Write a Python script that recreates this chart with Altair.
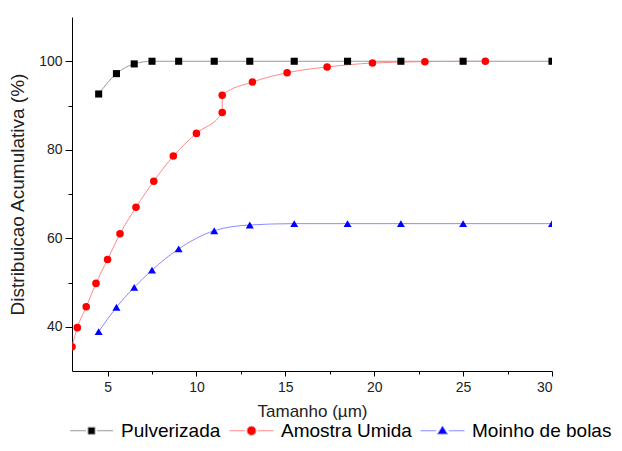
import altair as alt
import pandas as pd

series_names = ["Pulverizada", "Amostra Umida", "Moinho de bolas"]
marker_colors = ["#000000", "#ff0000", "#0000ff"]
line_colors = ["#9a9a9a", "#ff8a8a", "#8c8cff"]

pulv_x = [4.5, 5.5, 6.5, 7.5, 9.0, 11.0, 13.0, 15.5, 18.5, 21.5, 25.0, 30.0]
pulv_y = [92.6, 97.2, 99.4, 100.0, 100.0, 100.0, 100.0, 100.0, 100.0, 100.0, 100.0, 100.0]

umida_x = [3.0, 3.3, 3.8, 4.35, 5.0, 5.7, 6.6, 7.6, 8.7, 10.0, 11.45, 11.45, 13.15,
           15.1, 17.35, 19.9, 22.85, 26.25]
umida_y = [35.5, 39.8, 44.5, 49.8, 55.2, 61.0, 67.0, 72.9, 78.6, 83.7, 88.4, 92.3, 95.3,
           97.4, 98.7, 99.6, 99.9, 100.0]

moinho_x = [4.5, 5.5, 6.5, 7.5, 9.0, 11.0, 13.0, 15.5, 18.5, 21.5, 25.0, 30.0]
moinho_y = [38.9, 44.4, 48.9, 52.8, 57.6, 61.7, 63.0, 63.3, 63.3, 63.3, 63.3, 63.3]

x_ticks = [5, 7.5, 10, 12.5, 15, 17.5, 20, 22.5, 25, 27.5, 30]
y_ticks = [40, 50, 60, 70, 80, 90, 100]

rows = []
for name, xs, ys in [(series_names[0], pulv_x, pulv_y),
                     (series_names[1], umida_x, umida_y),
                     (series_names[2], moinho_x, moinho_y)]:
    for i, (xv, yv) in enumerate(zip(xs, ys)):
        rows.append({"Series": name, "x": xv, "y": yv, "idx": i})
df = pd.DataFrame(rows)

# legend glyphs: line - marker - line (unit = sqrt(size)/2 px = 5 px)
legend_shapes = [
    "M-4.3,0H-1.1M1.1,0H4.3M-0.7,-0.7H0.7V0.7H-0.7Z",
    "M-4.4,0H-1.3M1.3,0H4.4M0.9,0A0.9,0.9,0,1,1,-0.9,0A0.9,0.9,0,1,1,0.9,0Z",
    "M-4.4,0H-1.25M1.25,0H4.4M0,-0.95L1.0,0.65H-1.0Z",
]

x_enc = alt.X("x:Q", scale=alt.Scale(domain=[3, 30], nice=False, zero=False),
              axis=alt.Axis(values=x_ticks, title="Tamanho (µm)", grid=False,
                            labelExpr="datum.value % 5 === 0 ? '' + datum.value : ''",
                            tickSize={"condition": {"test": "datum.value % 5 === 0", "value": 5}, "value": 3},
                            labelPadding=4, titlePadding=9, titleFontSize=17,
                            labelFontSize=14))
y_enc = alt.Y("y:Q", scale=alt.Scale(domain=[30, 110], nice=False, zero=False),
              axis=alt.Axis(values=y_ticks, title="Distribuicao Acumulativa (%)", grid=False,
                            labelExpr="datum.value % 20 === 0 ? '' + datum.value : ''",
                            tickSize={"condition": {"test": "datum.value % 20 === 0", "value": 7}, "value": 4},
                            labelPadding=3, titlePadding=11, titleFontSize=19,
                            labelFontSize=14))

lines = alt.Chart(df).mark_line(strokeWidth=1, interpolate="monotone", clip=True).encode(
    x=x_enc, y=y_enc,
    stroke=alt.Stroke("Series:N", scale=alt.Scale(domain=series_names, range=line_colors), legend=None),
    order=alt.Order("idx:Q"),
)

points = alt.Chart(df).mark_point(filled=True, opacity=1, clip=True).encode(
    x=x_enc, y=y_enc,
    fill=alt.Fill("Series:N", scale=alt.Scale(domain=series_names, range=marker_colors), legend=None),
    shape=alt.Shape("Series:N", scale=alt.Scale(domain=series_names, range=["square", "circle", "triangle-up"]), legend=None),
    size=alt.Size("Series:N", scale=alt.Scale(domain=series_names, range=[50, 64, 90]), legend=None),
)

leg = alt.Legend(orient="none", legendX=10, legendY=404, direction="horizontal", title=None,
                 labelFontSize=19, labelColor="#000000", symbolSize=100, symbolStrokeWidth=1,
                 labelOffset=20, columnPadding=6)

dummy = alt.Chart(df).mark_point(filled=True, opacity=1).encode(
    x=x_enc, y=y_enc,
    fill=alt.Fill("Series:N", scale=alt.Scale(domain=series_names, range=marker_colors), legend=leg),
    stroke=alt.Stroke("Series:N", scale=alt.Scale(domain=series_names, range=line_colors), legend=leg),
    shape=alt.Shape("Series:N", scale=alt.Scale(domain=series_names, range=legend_shapes), legend=leg),
).transform_filter("false")

chart = alt.layer(lines, points, dummy).resolve_scale(
    fill="independent", stroke="independent", shape="independent", size="independent"
).properties(
    width=480, height=354,
    autosize=alt.AutoSizeParams(type="none"),
    padding={"left": 64, "top": 9, "right": 62, "bottom": 72},
).configure(font="Liberation Sans").configure_view(stroke=None).configure_axis(
    domainColor="#000000", tickColor="#000000", labelColor="#222222", titleColor="#222222",
    titleFontWeight="normal", labelFont="Liberation Sans", titleFont="Liberation Sans",
    domainWidth=1, tickWidth=1,
)

chart.save("out.html", embed_options={"renderer": "svg", "actions": False})
